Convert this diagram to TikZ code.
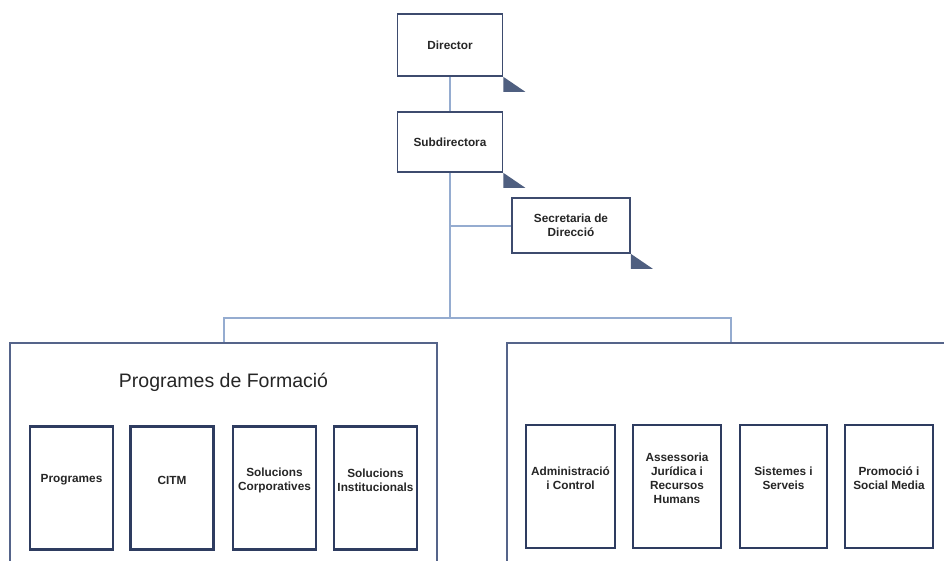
\documentclass[tikz,border=0pt]{standalone}
\usepackage{fontspec}
\setmainfont{Liberation Sans}
\begin{document}
\begin{tikzpicture}[x=1pt,y=-1pt,
  conn/.style={draw=connblue,line width=2pt},
  topbox/.style={draw=boxdark,line width=1.6pt,fill=white,align=center,
    font=\fontsize{11.8}{14}\selectfont\bfseries,text=black!85,inner sep=0pt},
  bigbox/.style={draw=bigline,line width=1.6pt,inner sep=0pt},
  unitbox/.style={draw=unitline,line width=2.6pt,minimum width=83pt,minimum height=123pt,
    inner sep=0pt},
  unitlabel/.style={align=center,font=\fontsize{11.8}{14}\selectfont\bfseries,text=black!85,inner sep=0pt}]
\definecolor{connblue}{HTML}{95ACD0}
\definecolor{boxdark}{HTML}{3D4B6E}
\definecolor{bigline}{HTML}{55648A}
\definecolor{unitline}{HTML}{2E3C60}
\definecolor{shadowc}{HTML}{4F5F80}
\clip (0,0) rectangle (944,560);
\fill[white] (0,0) rectangle (944,560);
% top boxes
\node[topbox,minimum width=105pt,minimum height=62pt] (dir) at (450,45) {Director};
\node[topbox,minimum width=105pt,minimum height=60pt] (sub) at (450,142) {Subdirectora};
\node[topbox,minimum width=118pt,minimum height=55pt] (sec) at (571,225.5) {Secretaria de\\Direcció};
% big boxes
\node[bigbox,minimum width=427pt,minimum height=232pt] (left) at (223.5,459) {};
\node[bigbox,minimum width=448pt,minimum height=232pt] (right) at (731,459) {};
\node[font=\fontsize{19.5}{22}\selectfont,text=black!85] (title) at (223.5,382) {Programes de Formació};
% connectors
\coordinate (j2) at (450,318);
\draw[conn] (dir.south) -- (sub.north);
\draw[conn] (sub.south) -- (j2);
\draw[conn] (sec.west) -- (sec.west -| sub.south);
\draw[conn] (left.north) |- (j2) -| (right.north);
% shadows
\foreach \b in {dir,sub,sec}{
  \fill[shadowc] ([yshift=-15pt]\b.south east) -- ++(22,0) -- (\b.south east) -- cycle;
}
% units
\node[unitbox] (u1) at (71.5,488) {};
\node[unitbox] (u2) at (172,488) {};
\node[unitbox] (u3) at (274.5,488) {};
\node[unitbox] (u4) at (375.5,488) {};
\node[unitbox,minimum width=89pt] (u5) at (570.5,486.5) {};
\node[unitbox,minimum width=88pt] (u6) at (677,486.5) {};
\node[unitbox,minimum width=87pt] (u7) at (783.5,486.5) {};
\node[unitbox,minimum width=88pt] (u8) at (889,486.5) {};
\node[unitlabel] (t1) at ([yshift=8pt]u1.center) {Programes};
\node[unitlabel] (t2) at ([yshift=8pt]u2.center) {CITM};
\node[unitlabel] (t3) at ([yshift=8pt]u3.center) {Solucions\\Corporatives};
\node[unitlabel] (t4) at ([yshift=8pt]u4.center) {Solucions\\Institucionals};
\node[unitlabel] (t5) at ([yshift=8pt]u5.center) {Administració\\i Control};
\node[unitlabel] (t6) at ([yshift=8pt]u6.center) {Assessoria\\Jurídica i\\Recursos\\Humans};
\node[unitlabel] (t7) at ([yshift=8pt]u7.center) {Sistemes i\\Serveis};
\node[unitlabel] (t8) at ([yshift=8pt]u8.center) {Promoció i\\Social Media};
\end{tikzpicture}
\end{document}
